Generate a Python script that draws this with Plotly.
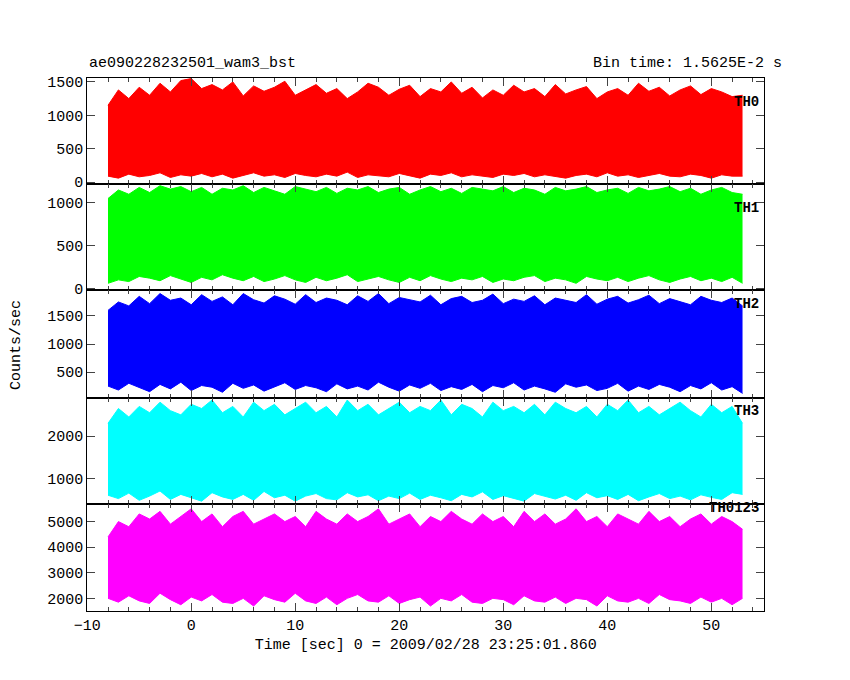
import plotly.graph_objects as go

t = list(range(-8, 54))  # one sample per second
# per-second envelopes (high/low)
th0_hi = [1150,1380,1250,1420,1300,1480,1350,1520,1550,1400,1460,1380,1500,1290,1440,1360,1420,1510,1300,1380,1460,1330,1400,1250,1350,1480,1420,1300,1390,1450,1280,1400,1350,1500,1330,1420,1260,1380,1300,1450,1350,1400,1280,1460,1320,1380,1430,1250,1350,1400,1300,1480,1360,1420,1290,1380,1440,1310,1400,1350,1280,1300]
th0_lo = [90,60,120,80,100,140,70,110,90,130,80,120,60,100,140,90,110,70,130,100,80,120,90,150,70,110,100,80,130,90,60,120,100,140,80,110,90,70,120,100,130,80,110,90,60,100,120,80,140,90,110,70,100,130,90,80,120,100,60,110,90,90]
th1_hi = [1050,1150,1100,1180,1120,1200,1160,1190,1130,1180,1100,1170,1150,1200,1120,1180,1140,1100,1190,1160,1130,1180,1110,1170,1150,1190,1120,1160,1180,1100,1150,1190,1130,1170,1110,1180,1160,1140,1190,1120,1170,1150,1100,1180,1140,1160,1190,1120,1150,1170,1110,1180,1140,1160,1190,1130,1170,1100,1150,1180,1120,1100]
th1_lo = [60,100,80,140,120,90,150,110,70,130,100,160,120,90,140,80,110,150,100,70,130,90,120,160,80,110,140,100,70,130,90,150,110,80,120,100,140,70,110,90,130,150,80,120,100,60,140,110,90,130,80,120,150,100,70,110,140,90,120,80,130,60]
th2_hi = [1600,1750,1680,1850,1720,1900,1780,1820,1700,1880,1760,1840,1700,1900,1790,1730,1860,1800,1710,1880,1740,1820,1780,1700,1860,1760,1900,1720,1830,1790,1750,1870,1700,1810,1850,1740,1780,1890,1720,1800,1760,1860,1700,1820,1780,1740,1880,1710,1800,1850,1730,1790,1870,1720,1810,1760,1700,1850,1780,1740,1820,1680]
th2_lo = [250,180,300,220,150,280,200,320,170,260,230,140,300,210,270,160,240,310,190,260,220,150,290,200,250,180,320,230,160,270,210,300,170,240,190,280,150,260,220,310,180,250,200,140,290,230,270,170,210,300,160,250,190,280,230,150,260,200,310,180,240,120]
th3_hi = [2300,2650,2450,2700,2550,2800,2600,2500,2750,2650,2850,2550,2700,2450,2800,2600,2750,2500,2650,2800,2550,2700,2450,2850,2600,2750,2500,2650,2800,2550,2700,2600,2850,2500,2750,2650,2450,2800,2600,2700,2550,2750,2500,2800,2650,2550,2700,2450,2750,2600,2850,2550,2700,2500,2650,2800,2600,2450,2750,2550,2700,2300]
th3_lo = [600,520,650,480,580,700,500,620,540,460,660,560,500,620,480,690,540,600,460,580,640,520,490,660,560,610,470,580,520,650,500,600,540,470,620,560,680,500,590,530,460,640,570,510,600,480,660,540,590,500,620,470,560,640,520,580,490,610,550,500,660,620]
th4_hi = [4400,5000,4800,5300,5100,5400,4900,5200,5500,5000,5300,4800,5200,5400,4900,5100,5300,5000,5200,4800,5400,5100,4900,5300,5000,5200,5500,4900,5100,5300,4800,5200,5000,5400,5100,4900,5300,5000,5200,4800,5400,5000,5300,4900,5100,5500,5000,5200,4800,5300,5100,4900,5400,5000,5200,4800,5100,5300,4900,5200,5000,4700]
th4_lo = [2000,1850,2100,1900,1800,2200,1950,1750,2050,1900,2150,1850,1800,2000,1700,2100,1950,1850,2200,1900,1800,2050,1750,2000,2150,1900,1850,2100,1800,1950,2050,1700,2000,1900,2150,1850,1800,2000,1950,1750,2100,1900,1850,2050,1800,2000,1950,1700,2100,1900,1850,2000,1800,2150,1950,1900,1800,2050,1850,2000,1750,2000]

panels = [("TH0", th0_lo, th0_hi, "#ff0000", [-30, 1560], [0, 500, 1000, 1500]),
          ("TH1", th1_lo, th1_hi, "#00ff00", [-23, 1218], [0, 500, 1000]),
          ("TH2", th2_lo, th2_hi, "#0000ff", [44, 1956], [500, 1000, 1500]),
          ("TH3", th3_lo, th3_hi, "#00ffff", [395, 2907], [1000, 2000]),
          ("TH0123", th4_lo, th4_hi, "#ff00ff", [1500, 5692], [2000, 3000, 4000, 5000])]

edges = [68, 176, 284, 393, 501, 610]
X0, X1 = 0.078, 0.888
font = dict(family="Liberation Mono", size=15, color="black")
fig = go.Figure()
for i, (name, lo, hi, col, yr, tv) in enumerate(panels):
    k = "" if i == 0 else str(i + 1)
    fig.add_trace(go.Scatter(x=t, y=lo, mode="lines", line=dict(color=col, width=1),
                             xaxis="x" + k, yaxis="y" + k, showlegend=False))
    fig.add_trace(go.Scatter(x=t, y=hi, mode="lines", line=dict(color=col, width=1),
                             fill="tonexty", fillcolor=col,
                             xaxis="x" + k, yaxis="y" + k, showlegend=False))
    dom = [1 - edges[i + 1] / 680, 1 - edges[i] / 680]
    fig.layout["yaxis" + k] = dict(domain=dom, range=yr, tickvals=tv, ticks="inside",
                                   ticklen=8, mirror="allticks", showline=True, linecolor="black",
                                   linewidth=1, showgrid=False, zeroline=False,
                                   tickfont=font, anchor="x" + k)
    fig.layout["xaxis" + k] = dict(domain=[X0, X1], range=[-10, 55.1],
                                   tickvals=[-10, 0, 10, 20, 30, 40, 50], ticks="inside",
                                   ticklen=8, mirror="allticks", showline=True, linecolor="black",
                                   linewidth=1, showgrid=False, zeroline=False,
                                   showticklabels=(i == 4), tickfont=font, anchor="y" + k,
                                   minor=dict(dtick=2, ticks="inside", ticklen=4))
    fig.add_annotation(text="<b>" + name + "</b>", xref="paper", yref="paper", x=X1 - 0.004,
                       y=1 - (edges[i] + 14) / 680, xanchor="right", showarrow=False,
                       font=dict(family="Liberation Mono", size=14, color="black"))

fig.layout["xaxis5"]["title"] = dict(text="Time [sec] 0 = 2009/02/28 23:25:01.860", font=font, standoff=4)
fig.add_annotation(text="Counts/sec", xref="paper", yref="paper", x=0.0, y=0.5, xshift=-16,
                   xanchor="left", textangle=-90, showarrow=False, font=font)
fig.add_annotation(text="ae090228232501_wam3_bst", xref="paper", yref="paper", x=X0,
                   y=1 - 64 / 680, xanchor="left", yanchor="bottom", showarrow=False, font=font)
fig.add_annotation(text="Bin time: 1.5625E-2 s", xref="paper", yref="paper", x=0.912,
                   y=1 - 64 / 680, xanchor="right", yanchor="bottom", showarrow=False, font=font)
fig.update_layout(width=850, height=680, margin=dict(l=0, r=0, t=0, b=0),
                  plot_bgcolor="white", paper_bgcolor="white")
fig.write_html("out.html")
